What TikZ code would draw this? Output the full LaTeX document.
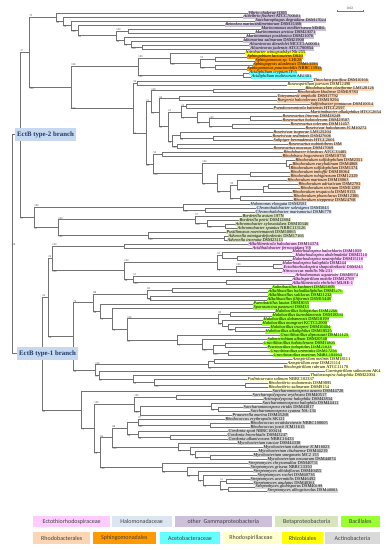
\documentclass[tikz,border=0pt]{standalone}
\usepackage{fontspec}
\setmainfont{Liberation Serif}
\newfontfamily\legfont{Carlito}
\usetikzlibrary{calc,positioning}
\definecolor{ectc}{HTML}{FFCCFF}
\definecolor{halc}{HTML}{DCE6F2}
\definecolor{gamc}{HTML}{CCC0DA}
\definecolor{betc}{HTML}{D7E4BD}
\definecolor{bacc}{HTML}{99FF33}
\definecolor{rdbc}{HTML}{FCD5B4}
\definecolor{sphc}{HTML}{FF9900}
\definecolor{acec}{HTML}{66FFFF}
\definecolor{rspc}{HTML}{FFFFCC}
\definecolor{rhzc}{HTML}{FFFF00}
\definecolor{actc}{HTML}{D9D9D9}
\definecolor{brfill}{HTML}{C6D9F1}
\definecolor{brtext}{HTML}{1F3864}
\tikzset{br/.style={line width=0.35pt,draw=black!55},
  leaflab/.style={anchor=west,inner xsep=0.4pt,inner ysep=0pt,text height=2.9pt,text depth=0.9pt,font=\fontsize{4.4}{5}\selectfont},
  bsv/.style={inner sep=0.2pt,font=\fontsize{2.8}{3}\selectfont,text=black!75},
  branchlab/.style={anchor=west,fill=brfill,text=brtext,font=\fontsize{6.8}{8}\selectfont\bfseries,inner xsep=2pt,minimum height=11pt},
  legbox/.style={minimum height=11.5pt,inner sep=0pt,font=\legfont\fontsize{6}{7}\selectfont,text=black!75}}
% leaf: index, tip x, colour, species, strain
\newcommand{\leafl}[5]{\node[leaflab,fill=#3] (L#1) at (#2,{-9.017-3.983*#1}) {\textit{#4} #5};}
% clade: name, x, upper child, lower child, upper value, lower value
\newcommand{\clade}[6]{%
  \path let \p1=(#3), \p2=(#4) in coordinate (#1) at (#2,{0.5*\y1+0.5*\y2});
  \draw[br] (#3) -- (#3 -| #1) -- (#4 -| #1) -- (#4);
  \node[bsv,anchor=south west] at (#3 -| #1) {#5};
  \node[bsv,anchor=north west] at (#4 -| #1) {#6};}

\begin{document}
\begin{tikzpicture}[x=1pt,y=1pt]
\fill[white] (0,0) rectangle (391,-550);
\useasboundingbox (0,0) rectangle (391,-550);

% leaves
\leafl{1}{248}{gamc}{Vibrio cholerae}{O395}
\leafl{2}{243}{gamc}{Aliivibrio fischeri}{ATCC700601}
\leafl{3}{255}{gamc}{Saccharophagus degradans}{DSM17024}
\leafl{4}{225}{gamc}{Reinekea marinisedimentorum}{DSM15388}
\leafl{5}{261}{gamc}{Marinomonas mediterranea}{MMB1}
\leafl{6}{255}{gamc}{Marinomonas arctica}{DSM23071}
\leafl{7}{246}{gamc}{Marinomonas posidonica}{DSM21076}
\leafl{8}{243}{gamc}{Idiomarina salinarum}{DSM21900}
\leafl{9}{249}{gamc}{Alcanivorax dieselolei}{MCCC1A00001}
\leafl{10}{250}{gamc}{Alcanivorax jadensis}{ATCC700854}
\leafl{11}{245}{rhzc}{Nitrobacter winogradskyi}{Nb-255}
\leafl{12}{247}{sphc}{Sphingobium lactosutens}{DS20}
\leafl{13}{255}{sphc}{Sphingomonas sp.}{LH128}
\leafl{14}{253}{sphc}{Sphingopyxis alaskensis}{DSM13593}
\leafl{15}{247}{sphc}{Sphingomonas paucimobilis}{NBRC13935}
\leafl{16}{249}{acec}{Acidiphilium cryptum}{JF-5}
\leafl{17}{251}{acec}{Acidiphilium multivorum}{AIU301}
\leafl{18}{313}{rdbc}{Thioclava pacifica}{DSM10166}
\leafl{19}{287}{rspc}{Roseospirillum parvum}{DSM12498}
\leafl{20}{305}{rdbc}{Rhodobaculum claviforme}{LMG28126}
\leafl{21}{297}{rdbc}{Rhodovulum kholense}{DSM19783}
\leafl{22}{277}{rdbc}{Tateyamaria omphalii}{DSM17792}
\leafl{23}{277}{rdbc}{Ruegeria halotolerans}{DSM19294}
\leafl{24}{310}{rdbc}{Sulfitobacter pontiacus}{DSM10014}
\leafl{25}{273}{rdbc}{Pseudooceanicola batsensis}{HTCC2597}
\leafl{26}{310}{rdbc}{Maritimibacter alkaliphilus}{HTCC2654}
\leafl{27}{282}{rdbc}{Roseovarius litoreus}{DSM28249}
\leafl{28}{282}{rdbc}{Roseovarius halotolerans}{DSM29507}
\leafl{29}{290}{rdbc}{Roseovarius tolerans}{DSM11457}
\leafl{30}{305}{rdbc}{Roseivivax halodurans}{JCM10272}
\leafl{31}{273}{rdbc}{Roseivivax isoporae}{LMG25204}
\leafl{32}{272}{rdbc}{Roseivivax sediminis}{DSM27606}
\leafl{33}{273}{rdbc}{Salipiger bermudensis}{HTCC2601}
\leafl{34}{288}{rdbc}{Roseovarius nubinhibens}{ISM}
\leafl{35}{273}{rdbc}{Roseovarius mucosus}{DSM17069}
\leafl{36}{283}{rdbc}{Rhodobacter blasticus}{ATCC33485}
\leafl{37}{282}{rdbc}{Rhodobaca bogoriensis}{DSM18756}
\leafl{38}{295}{rdbc}{Rhodovulum sulfidophilum}{DSM2351}
\leafl{39}{292}{rdbc}{Rhodovulum euryhalinum}{DSM4868}
\leafl{40}{290}{rdbc}{Rhodovulum sulfidophilum}{DSM1374}
\leafl{41}{290}{rdbc}{Rhodovulum imhoffii}{DSM18064}
\leafl{42}{290}{rdbc}{Rhodovulum robiginosum}{DSM12329}
\leafl{43}{287}{rdbc}{Rhodovulum marinum}{DSM18063}
\leafl{44}{298}{rdbc}{Rhodovulum adriaticum}{DSM2781}
\leafl{45}{300}{rdbc}{Rhodovulum strictum}{DSM11289}
\leafl{46}{292}{rdbc}{Rhodovulum tesquicola}{DSM19153}
\leafl{47}{293}{rdbc}{Rhodovulum phaeolacus}{DSM12306}
\leafl{48}{293}{rdbc}{Rhodovulum steppense}{DSM24768}
\leafl{49}{250}{halc}{Halomonas elongata}{DSM2581}
\leafl{50}{256}{halc}{Chromohalobacter salexigens}{DSM3043}
\leafl{51}{255}{halc}{Chromohalobacter marismortui}{DSM6770}
\leafl{52}{242}{betc}{Bordetella avium}{197N}
\leafl{53}{239}{betc}{Bordetella petrii}{DSM12804}
\leafl{54}{235}{betc}{Achromobacter xylosoxidans}{DSM10346}
\leafl{55}{237}{betc}{Achromobacter spanius}{NBRC113126}
\leafl{56}{226}{betc}{Pusillimonas noertemannii}{DSM10065}
\leafl{57}{228}{betc}{Advenella mimigardefordensis}{DSM17166}
\leafl{58}{227}{betc}{Advenella incenata}{DSM23113}
\leafl{59}{248}{ectc}{Alkalilimnicola halodurans}{DSM14374}
\leafl{60}{252}{ectc}{Acidihalobacter ferrooxidans}{V8}
\leafl{61}{292}{ectc}{Halorhodospira halochloris}{DSM1059}
\leafl{62}{295}{ectc}{Halorhodospira abdelmalekii}{DSM2110}
\leafl{63}{292}{ectc}{Halorhodospira neutriphila}{DSM15116}
\leafl{64}{282}{ectc}{Halorhodospira halophila}{DSM244}
\leafl{65}{283}{ectc}{Ectothiorhodospira shaposhnikovii}{DSM243}
\leafl{66}{282}{ectc}{Nitrococcus mobilis}{Nb-231}
\leafl{67}{295}{ectc}{Arhodomonas aquaeolei}{DSM8974}
\leafl{68}{292}{ectc}{Alkalispirillum mobile}{DSM12769}
\leafl{69}{292}{ectc}{Alkalilimnicola ehrlichii}{MLHE-1}
\leafl{70}{272}{bacc}{Salinibacillus kushneri}{DSM21609}
\leafl{71}{268}{bacc}{Alkalibacillus haloalkaliphilus}{DSM5271}
\leafl{72}{268}{bacc}{Alkalibacillus salilacus}{DSM21232}
\leafl{73}{267}{bacc}{Alkalibacillus filiformis}{DSM15448}
\leafl{74}{253}{bacc}{Paenibacillus lautus}{DSM3035}
\leafl{75}{253}{bacc}{Sporosarcina pasteurii}{DSM33}
\leafl{76}{275}{bacc}{Halobacillus halophilus}{DSM2266}
\leafl{77}{272}{bacc}{Halobacillus kuroshimensis}{DSM18393}
\leafl{78}{263}{bacc}{Halobacillus dabanensis}{DSM18199}
\leafl{79}{262}{bacc}{Halobacillus mangrovi}{KCTC12000}
\leafl{80}{270}{bacc}{Halobacillus trueperi}{DSM10404}
\leafl{81}{265}{bacc}{Halobacillus alkaliphilus}{DSM18525}
\leafl{82}{280}{bacc}{Gracilibacillus dipsosauri}{DSM11125}
\leafl{83}{267}{bacc}{Salimicrobium album}{DSM20748}
\leafl{84}{263}{bacc}{Gracilibacillus halotolerans}{DSM11805}
\leafl{85}{267}{bacc}{Piscibacillus halophilus}{DSM21633}
\leafl{86}{270}{bacc}{Gracilibacillus orientalis}{DSM17256}
\leafl{87}{273}{bacc}{Gracilibacillus marinus}{NBRC103963}
\leafl{88}{292}{rspc}{Azospirillum melinis}{DSM18111}
\leafl{89}{287}{rspc}{Azospirillum zeae}{DSM21114}
\leafl{90}{283}{rspc}{Rhodospirillum rubrum}{ATCC11170}
\leafl{91}{325}{rspc}{Caenispirillum salinarum}{AK4}
\leafl{92}{310}{rspc}{Thalassospira halophila}{DSM22004}
\leafl{93}{247}{rspc}{Fodinicurvata salinum}{NBRC102337}
\leafl{94}{268}{rspc}{Rhodovibrio sodomensis}{DSM9895}
\leafl{95}{268}{rspc}{Rhodovibrio salinarum}{DSM9154}
\leafl{96}{272}{actc}{Saccharomonospora azurea}{DSM44720}
\leafl{97}{252}{actc}{Saccharopolyspora erythraea}{DSM40517}
\leafl{98}{263}{actc}{Actinopolyspora halophila}{DSM43834}
\leafl{99}{262}{actc}{Saccharomonospora halophila}{DSM44411}
\leafl{100}{243}{actc}{Saccharomonospora viridis}{DSM43017}
\leafl{101}{250}{actc}{Saccharomonospora cyanea}{NA-134}
\leafl{102}{232}{actc}{Prauserella marina}{DSM45268}
\leafl{103}{225}{actc}{Rhodococcus erythropolis}{SK121}
\leafl{104}{250}{actc}{Rhodococcus wratislaviensis}{NBRC100605}
\leafl{105}{250}{actc}{Rhodococcus jostii}{JCM11615}
\leafl{106}{228}{actc}{Gordonia sputi}{NBRC100414}
\leafl{107}{227}{actc}{Gordonia bronchialis}{DSM43247}
\leafl{108}{228}{actc}{Gordonia alkanivorans}{NBRC16433}
\leafl{109}{237}{actc}{Mycobacterium tusciae}{DSM44338}
\leafl{110}{263}{actc}{Mycobacterium tokaiense}{JCM16023}
\leafl{111}{258}{actc}{Mycobacterium chubuense}{DSM44219}
\leafl{112}{253}{actc}{Mycobacterium smegmatis}{MC2 155}
\leafl{113}{267}{actc}{Mycobacterium neoaurum}{DSM44074}
\leafl{114}{248}{actc}{Streptomyces chrysomallus}{DSM40731}
\leafl{115}{250}{actc}{Streptomyces griseus}{NBRC13350}
\leafl{116}{253}{actc}{Streptomyces albidoflavus}{DSM40455}
\leafl{117}{257}{actc}{Streptomyces rochei}{DSM40736}
\leafl{118}{250}{actc}{Streptomyces avermitilis}{DSM46492}
\leafl{119}{253}{actc}{Streptomyces anulatus}{DSM40361}
\leafl{120}{255}{actc}{Streptomyces globisporus}{DSM40199}
\leafl{121}{267}{actc}{Streptomyces albogriseolus}{DSM40003}

% type-2 branch
\clade{G9}{142}{L9.west}{L10.west}{}{}
\clade{G8}{131}{L8.west}{G9}{}{100}
\clade{G7}{124}{L7.west}{G8}{}{70}
\clade{G6}{128}{L5.west}{L6.west}{}{}
\clade{G5}{116}{G6}{G7}{100}{44}
\clade{G4}{78}{L4.west}{G5}{}{62}
\clade{G3}{71}{L3.west}{G4}{}{100}
\clade{G2}{63}{L2.west}{G3}{}{30}
\clade{G1}{56}{L1.west}{G2}{}{43}
\clade{S2a}{215}{L12.west}{L13.west}{}{}
\clade{S2b}{215}{L14.west}{L15.west}{}{}
\clade{S2}{200}{S2a}{S2b}{95}{100}
\clade{S1}{170}{L11.west}{S2}{}{100}
\clade{AC}{243}{L16.west}{L17.west}{}{}
\clade{SA}{138}{S1}{AC}{100}{100}
\clade{R1}{137}{L18.west}{L19.west}{}{}
\clade{R3a}{213}{L20.west}{L21.west}{}{}
\clade{R4a}{179}{L22.west}{L23.west}{}{}
\clade{R6a}{186}{L24.west}{L25.west}{}{}
\clade{Q1}{250}{L27.west}{L28.west}{}{}
\clade{Q2}{232}{L29.west}{L30.west}{}{}
\clade{Q0}{209}{Q1}{Q2}{100}{91}
\clade{R7}{197}{L26.west}{Q0}{}{97}
\clade{R6}{181}{R6a}{R7}{26}{71}
\clade{R8b}{213}{L32.west}{L33.west}{}{}
\clade{R8a}{180}{L31.west}{R8b}{}{80}
\clade{R8c}{177}{L34.west}{L35.west}{}{}
\clade{R8}{172}{R8a}{R8c}{}{100}
\clade{R5}{168}{R6}{R8}{61}{33}
\clade{R4}{159}{R4a}{R5}{94}{51}
\clade{R3}{151}{R3a}{R4}{100}{21}
\clade{R10a}{162}{L36.west}{L37.west}{}{}
\clade{R11b}{289}{L39.west}{L40.west}{}{}
\clade{R11a}{286}{L38.west}{R11b}{}{}
\clade{R12a}{250}{L41.west}{L42.west}{}{}
\clade{R12c}{268}{L44.west}{L45.west}{}{}
\clade{R12d}{263}{R12c}{L46.west}{}{}
\clade{R12b}{237}{L43.west}{R12d}{}{63}
\clade{R12e}{240}{L47.west}{L48.west}{}{}
\clade{R12f}{230}{R12b}{R12e}{99}{97}
\clade{R12}{217}{R12a}{R12f}{}{45}
\clade{R11}{202}{R11a}{R12}{100}{53}
\clade{R10}{153}{R10a}{R11}{50}{100}
\clade{R2}{146}{R3}{R10}{11}{40}
\clade{R}{133}{R1}{R2}{96}{53}
\clade{C}{71}{SA}{R}{100}{100}
\clade{A}{29}{G1}{C}{79}{100}
\clade{H1}{205}{L50.west}{L51.west}{}{}
\clade{H}{183}{L49.west}{H1}{}{100}
\clade{b1c}{225}{L54.west}{L55.west}{}{}
\clade{b1b}{207}{L53.west}{b1c}{}{100}
\clade{b1}{195}{L52.west}{b1b}{97}{100}
\clade{b2b}{224}{L57.west}{L58.west}{}{}
\clade{b2}{148}{L56.west}{b2b}{}{100}
\clade{B}{58}{b1}{b2}{100}{100}
\clade{D}{34}{H}{B}{100}{93}
\clade{T2}{20}{A}{D}{37}{37}

% type-1 branch
\clade{V1}{124}{L59.west}{L60.west}{}{}
\clade{V3a}{237}{L62.west}{L63.west}{}{}
\clade{V3x}{222}{L61.west}{V3a}{}{}
\clade{V3c}{273}{L64.west}{L65.west}{}{}
\clade{V3d}{236}{V3c}{L66.west}{100}{}
\clade{V3}{217}{V3x}{V3d}{91}{76}
\clade{V4b}{226}{L68.west}{L69.west}{}{}
\clade{V4}{133}{L67.west}{V4b}{57}{100}
\clade{V2}{124}{V3}{V4}{100}{38}
\clade{V}{52}{V1}{V2}{100}{100}
\clade{X1a}{172}{L70.west}{L71.west}{}{}
\clade{X1b}{150}{L72.west}{L73.west}{}{}
\clade{X1}{147}{X1a}{X1b}{83}{100}
\clade{X5a}{230}{L76.west}{L77.west}{}{}
\clade{X5d}{235}{L80.west}{L81.west}{}{}
\clade{X5c}{228}{L79.west}{X5d}{}{100}
\clade{X5e}{222}{L78.west}{X5c}{}{}
\clade{X5}{218}{X5a}{X5e}{99}{69}
\clade{X6d}{228}{L86.west}{L87.west}{}{}
\clade{X6e}{225}{L84.west}{L85.west}{}{}
\clade{X6c}{213}{X6e}{X6d}{}{100}
\clade{X6b}{202}{L83.west}{X6c}{}{100}
\clade{X6}{177}{L82.west}{X6b}{}{71}
\clade{X4}{127}{X5}{X6}{100}{99}
\clade{X3}{112}{L75.west}{X4}{}{74}
\clade{X2}{100}{L74.west}{X3}{}{72}
\clade{X}{93}{X1}{X2}{88}{56}
\clade{Y1a}{214}{L88.west}{L89.west}{}{}
\clade{Y1}{208}{Y1a}{L90.west}{}{90}
\clade{Y5}{245}{L94.west}{L95.west}{}{}
\clade{Y4}{154}{L93.west}{Y5}{}{100}
\clade{Y3}{133}{L92.west}{Y4}{}{33}
\clade{Y2}{99}{L91.west}{Y3}{}{97}
\clade{Y}{95}{Y1}{Y2}{100}{37}
\clade{W}{73}{X}{Y}{76}{34}
\clade{U}{48}{V}{W}{26}{94}
\clade{Z2a}{176}{L97.west}{L98.west}{}{}
\clade{Z2c}{218}{L100.west}{L101.west}{}{}
\clade{Z2b}{211}{L99.west}{Z2c}{}{51}
\clade{Z2x}{140}{Z2b}{L102.west}{}{}
\clade{Z2}{134}{Z2a}{Z2x}{100}{100}
\clade{Z5b}{210}{L104.west}{L105.west}{}{}
\clade{Z5a}{138}{L103.west}{Z5b}{97}{100}
\clade{Z6b}{170}{L107.west}{L108.west}{}{}
\clade{Z6}{138}{L106.west}{Z6b}{}{99}
\clade{Z5}{127}{Z5a}{Z6}{}{48}
\clade{Z7d}{210}{L112.west}{L113.west}{}{}
\clade{Z7c}{195}{L111.west}{Z7d}{}{61}
\clade{Z7b}{190}{L110.west}{Z7c}{}{72}
\clade{Z7}{178}{L109.west}{Z7b}{}{77}
\clade{Z4}{112}{Z5}{Z7}{88}{100}
\clade{Z9g}{228}{L120.west}{L121.west}{}{}
\clade{Z9f}{226}{L118.west}{L119.west}{}{}
\clade{Z9e}{220}{Z9f}{Z9g}{61}{61}
\clade{Z9d}{203}{L117.west}{Z9e}{}{99}
\clade{Z9c}{198}{L116.west}{Z9d}{}{12}
\clade{Z9b}{187}{L115.west}{Z9c}{}{24}
\clade{Z9}{162}{L114.west}{Z9b}{}{96}
\clade{Z3}{100}{Z4}{Z9}{83}{100}
\clade{Z1}{94}{Z2}{Z3}{100}{21}
\clade{Z}{81}{L96.west}{Z1}{}{71}
\clade{T1}{42}{U}{Z}{26}{90}

% root and branch names
\clade{RT}{12}{T2}{T1}{}{}
\node[bsv,anchor=west] at (RT) {98};
\node[branchlab] (type2) at ([xshift=3pt]T2 -| RT) {EctB type-2 branch};
\node[branchlab] (type1) at ([xshift=5pt]T1 -| RT) {EctB type-1 branch};

% scale bar
\coordinate (sbl) at (337,-11);
\coordinate (sbr) at (363,-11);
\draw[br] (sbl) -- (sbr);
\draw[br] ([yshift=1.2pt]sbl) -- ([yshift=-1.2pt]sbl);
\draw[br] ([yshift=1.2pt]sbr) -- ([yshift=-1.2pt]sbr);
\node[bsv,font=\fontsize{3.6}{4}\selectfont,above=0.8pt] (sbt) at ($(sbl)!0.5!(sbr)$) {0.02};

% legend
\node[legbox,fill=ectc,minimum width=76.7pt] (lg1) at (71.7,-521.5) {Ectothiorhodospiraceae};
\node[legbox,fill=halc,minimum width=60pt] (lg2) at (141.7,-521.5) {Halomonadaceae};
\node[legbox,fill=gamc,minimum width=96.7pt] (lg3) at (223.3,-521.5) {other\ \ Gammaproteobacteria};
\node[legbox,fill=betc,minimum width=63.3pt] (lg4) at (306.7,-521.5) {Betaproteobacteria};
\node[legbox,fill=bacc,minimum width=39.3pt] (lg5) at (360.3,-521.5) {Bacillales};
\node[legbox,fill=rdbc,minimum width=56.7pt] (lg6) at (61.7,-538.2) {Rhodobacterales};
\node[legbox,fill=sphc,minimum width=63.3pt] (lg7) at (124.3,-538.2) {Sphingomonadales};
\node[legbox,fill=acec,minimum width=60pt] (lg8) at (190,-538.2) {Acetobacteraceae};
\node[legbox,fill=rspc,minimum width=56.7pt] (lg9) at (251,-538.2) {Rhodospirillaceae};
\node[legbox,fill=rhzc,minimum width=41.7pt] (lg10) at (302.5,-538.2) {Rhizobiales};
\node[legbox,fill=actc,minimum width=55pt] (lg11) at (352.5,-538.2) {Actinobacteria};
\end{tikzpicture}
\end{document}
